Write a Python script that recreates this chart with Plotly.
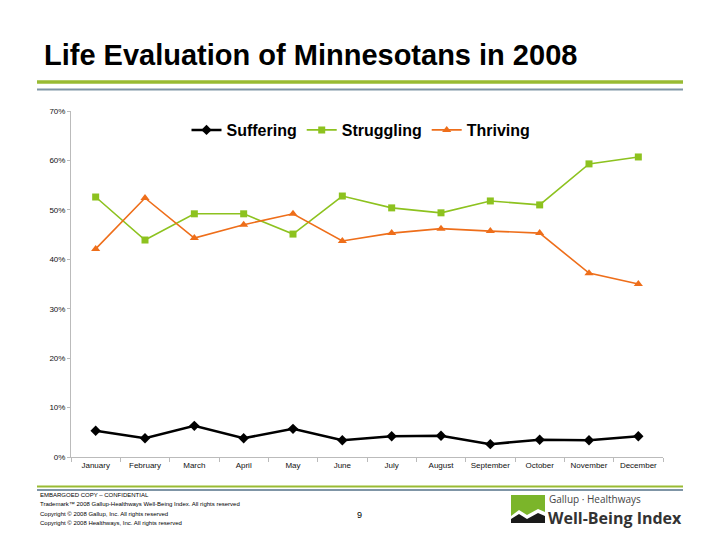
import plotly.graph_objects as go

months = ["January", "February", "March", "April", "May", "June", "July",
          "August", "September", "October", "November", "December"]
suffering = [0.053, 0.038, 0.063, 0.038, 0.057, 0.034, 0.042, 0.043, 0.026, 0.035, 0.034, 0.042]
struggling = [0.526, 0.439, 0.492, 0.492, 0.451, 0.528, 0.504, 0.494, 0.518, 0.510, 0.593, 0.607]
thriving = [0.421, 0.524, 0.443, 0.470, 0.492, 0.437, 0.453, 0.462, 0.457, 0.453, 0.372, 0.350]
y_ticks = [0, 0.1, 0.2, 0.3, 0.4, 0.5, 0.6, 0.7]

fig = go.Figure()
fig.add_trace(go.Scatter(x=months, y=suffering, name="Suffering", mode="lines+markers",
                         line=dict(color="#000000", width=2.5),
                         marker=dict(symbol="diamond", size=8, color="#000000")))
fig.add_trace(go.Scatter(x=months, y=struggling, name="Struggling", mode="lines+markers",
                         line=dict(color="#8DC21F", width=1.6),
                         marker=dict(symbol="square", size=7, color="#8DC21F")))
fig.add_trace(go.Scatter(x=months, y=thriving, name="Thriving", mode="lines+markers",
                         line=dict(color="#EE6E1A", width=1.6),
                         marker=dict(symbol="triangle-up", size=8, color="#EE6E1A")))

# plot area in screen pixels: x 71..663, y 111..457 (page has 8px body margin)
PX0, PX1, PY0, PY1 = 71, 663, 111, 457
def px(x):
    return (x - PX0) / (PX1 - PX0)
def py(y):
    return (PY1 - y) / (PY1 - PY0)

shapes = [
    dict(type="line", xref="paper", yref="paper", x0=px(37), x1=px(683), y0=py(82), y1=py(82),
         line=dict(color="#99BB33", width=3.5)),
    dict(type="line", xref="paper", yref="paper", x0=px(37), x1=px(683), y0=py(89.5), y1=py(89.5),
         line=dict(color="#7F95A6", width=2)),
]
annotations = [
    dict(text="<b>Life Evaluation of Minnesotans in 2008</b>", xref="paper", yref="paper",
         x=px(42), y=py(55), xanchor="left", yanchor="middle", showarrow=False,
         font=dict(family="Liberation Sans, Arial", size=29, color="#000000")),
]
fig.update_layout(
    width=720, height=540,
    margin=dict(l=63, r=65, t=103, b=91),
    paper_bgcolor="white", plot_bgcolor="white",
    font=dict(family="Liberation Sans, Arial", color="#000000"),
    showlegend=True,
    legend=dict(orientation="h", x=px(361), xanchor="center", y=py(130), yanchor="middle",
                font=dict(size=16, family="Liberation Sans, Arial", color="#000000", weight="bold"),
                bgcolor="rgba(0,0,0,0)", tracegroupgap=0),
    xaxis=dict(type="category", range=[-0.5, 11.5], showgrid=False, showline=True,
               linecolor="#BBBBBB", linewidth=1, ticks="outside", tickson="boundaries",
               ticklen=4, tickcolor="#BBBBBB", tickfont=dict(size=8, color="#111111"),
               fixedrange=True),
    yaxis=dict(range=[0, 0.7], tickvals=y_ticks, tickformat=".0%", showgrid=False,
               showline=True, linecolor="#BBBBBB", linewidth=1, ticks="outside",
               ticklen=3, tickcolor="#BBBBBB", tickfont=dict(size=8, color="#111111"),
               zeroline=False, fixedrange=True),
)

# footer
shapes += [
    dict(type="line", xref="paper", yref="paper", x0=px(37), x1=px(683), y0=py(486.5), y1=py(486.5),
         line=dict(color="#99BB33", width=2)),
    dict(type="line", xref="paper", yref="paper", x0=px(37), x1=px(683), y0=py(490), y1=py(490),
         line=dict(color="#7F95A6", width=2)),
    dict(type="path", xref="paper", yref="paper",
         path=(f"M {px(511)} {py(495)} L {px(545)} {py(495)} L {px(545)} {py(512)} "
               f"L {px(538)} {py(509)} L {px(527)} {py(515)} L {px(519)} {py(510)} L {px(511)} {py(516)} Z"),
         fillcolor="#7BB52A", line=dict(width=0)),
    dict(type="path", xref="paper", yref="paper",
         path=(f"M {px(511)} {py(519)} L {px(519)} {py(514)} L {px(527)} {py(519)} L {px(538)} {py(513)} "
               f"L {px(545)} {py(516)} L {px(545)} {py(523)} L {px(511)} {py(523)} Z"),
         fillcolor="#1A1A1A", line=dict(width=0)),
]
footer_lines = ["EMBARGOED COPY – CONFIDENTIAL",
                "Trademark™ 2008 Gallup-Healthways Well-Being Index. All rights reserved",
                "Copyright © 2008 Gallup, Inc. All rights reserved",
                "Copyright © 2008 Healthways, Inc. All rights reserved"]
for i, t in enumerate(footer_lines):
    annotations.append(dict(text=t, xref="paper", yref="paper", x=px(38), y=py(495 + i * 9.3),
                            xanchor="left", yanchor="middle", showarrow=False,
                            font=dict(size=6, color="#000000")))
annotations += [
    dict(text="9", xref="paper", yref="paper", x=px(359), y=py(515), xanchor="center",
         yanchor="middle", showarrow=False, font=dict(size=9, color="#000000")),
    dict(text="Gallup · Healthways", xref="paper", yref="paper", x=px(547), y=py(499),
         xanchor="left", yanchor="middle", showarrow=False,
         font=dict(family="Open Sans", size=10, color="#444444")),
    dict(text="<b>Well-Being Index</b>", xref="paper", yref="paper", x=px(546), y=py(517.5),
         xanchor="left", yanchor="middle", showarrow=False,
         font=dict(family="Open Sans", size=16, color="#333333")),
]
fig.update_layout(shapes=shapes, annotations=annotations)
fig.write_html("out.html")
